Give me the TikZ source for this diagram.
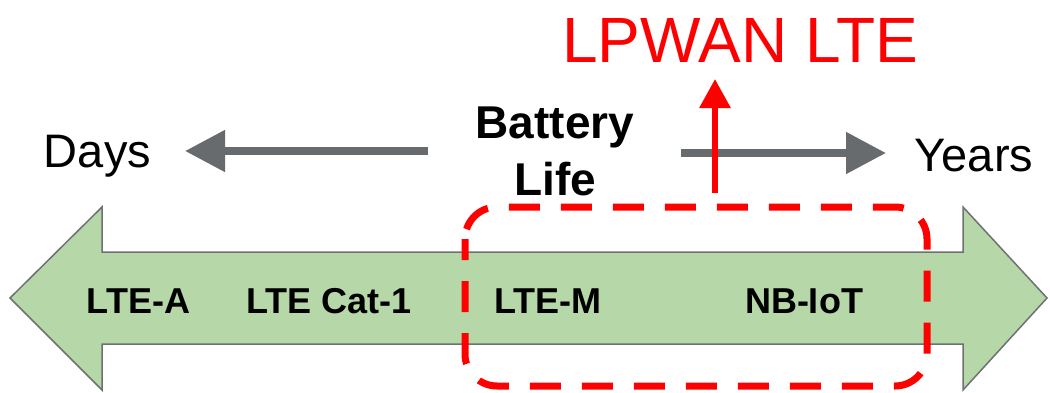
\documentclass[tikz,border=0pt]{standalone}
\usepackage{fontspec}
\setmainfont{Liberation Sans}
\usetikzlibrary{arrows.meta}
\definecolor{bandgreen}{HTML}{B6D7A8}
\definecolor{bandedge}{HTML}{6E7173}
\definecolor{arrowgray}{HTML}{676B6E}
\definecolor{lpred}{HTML}{FF0000}
\tikzset{
  lbl/.style={anchor=base, inner sep=0pt, font=\fontsize{36}{40}\selectfont\bfseries},
  side/.style={anchor=base, inner sep=0pt, font=\fontsize{47}{50}\selectfont},
  grayarrow/.style={draw=arrowgray, line width=8pt, -{Triangle[length=40pt,width=40pt]}},
}
\begin{document}
\begin{tikzpicture}[x=1pt,y=-1pt]
\useasboundingbox (0,0) rectangle (1050,392);
% double arrow band
\draw[fill=bandgreen, draw=bandedge, line width=1.5pt, line join=miter]
  (10,298) -- (102,207) -- (102,252) -- (963,252) -- (963,207) -- (1047,298)
  -- (963,390) -- (963,344) -- (102,344) -- (102,390) -- cycle;
% labels on band
\node[lbl] (ltea) at (138.5,313) {LTE-A};
\node[lbl] (cat1) at (329,313) {LTE Cat-1};
\node[lbl] (ltem) at (548,313) {LTE-M};
\node[lbl] (nbiot) at (804,313) {NB-IoT};
% side texts
\node[side] (days) at (97.5,167) {Days};
\node[side] (years) at (974,171) {Years};
\node[anchor=base, inner sep=0pt, font=\fontsize{46}{50}\selectfont\bfseries] (bat) at (555,138) {Battery};
\node[anchor=base, inner sep=0pt, font=\fontsize{46}{50}\selectfont\bfseries] (life) at (555,195) {Life};
\node[anchor=base, inner sep=0pt, text=lpred, font=\fontsize{64}{70}\selectfont] (lpwan) at (740,62) {LPWAN LTE};
% gray arrows
\coordinate (dstart) at (428,151);
\coordinate (dend) at (185,151);
\coordinate (ystart) at (681,153);
\coordinate (yend) at (886,153);
\draw[grayarrow] (dstart) -- (dend);
\draw[grayarrow] (ystart) -- (yend);
% dashed red box
\draw[lpred, line width=7pt, dash pattern=on 31pt off 21pt, dash phase=10pt, rounded corners=32pt]
  (465,207) rectangle (927,386);
% red arrow
\coordinate (rstart) at (715,193);
\coordinate (rend) at (715,79);
\draw[lpred, line width=6pt, -{Triangle[length=29pt,width=30pt]}] (rstart) -- (rend);
\end{tikzpicture}
\end{document}
